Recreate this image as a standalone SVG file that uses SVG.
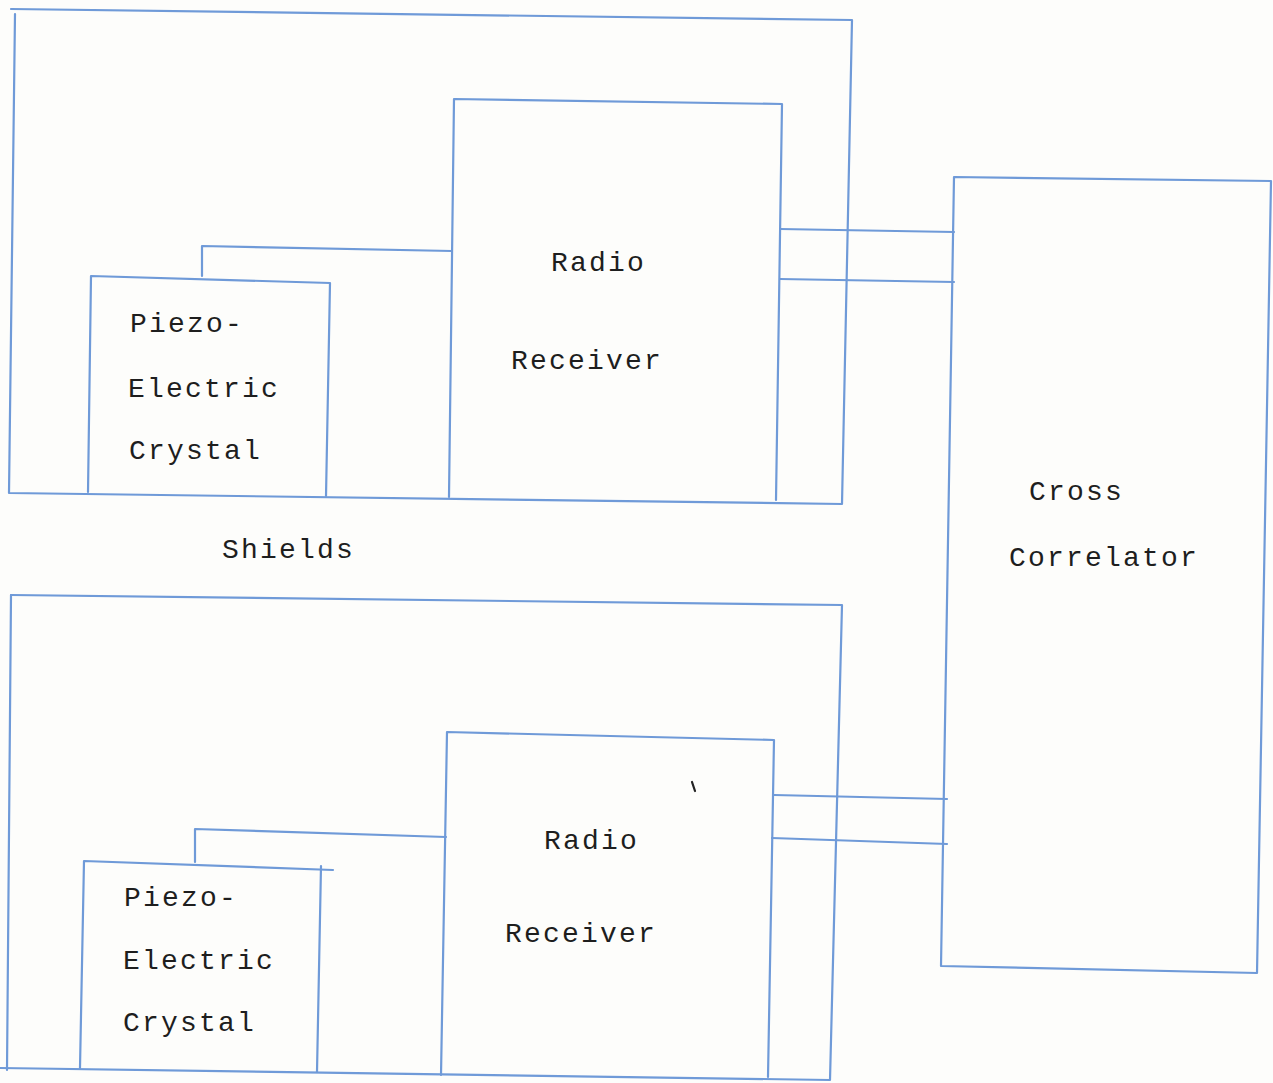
<svg xmlns="http://www.w3.org/2000/svg" width="1273" height="1083" viewBox="0 0 1273 1083">
<style>
.ln{fill:none;stroke:#6f9ad8;stroke-width:2.2;stroke-linecap:round;stroke-linejoin:round}
.tx{font-family:"Liberation Mono","DejaVu Sans Mono",monospace;font-size:28px;letter-spacing:2.2px;fill:#1e1e1e}
</style>
<rect width="1273" height="1083" fill="#fdfdfb"/>
<g id="shield-top">
<path class="ln" d="M11,9 L852,20 L842,504 L9,493 L15,14"/>
</g>
<g id="receiver-top">
<path class="ln" d="M449,497 L454,99 L782,104 L776,500"/>
<text class="tx" x="551" y="271">Radio</text>
<text class="tx" x="511" y="369">Receiver</text>
</g>
<g id="crystal-top">
<path class="ln" d="M88,492 L91,276 L330,283 L326,496"/>
<text class="tx" x="130" y="332">Piezo-</text>
<text class="tx" x="128" y="397">Electric</text>
<text class="tx" x="129" y="459">Crystal</text>
</g>
<g id="shield-bottom">
<path class="ln" d="M11,595 L842,605 L830,1080 L0,1068"/>
<path class="ln" d="M11,595 L7,1070"/>
</g>
<g id="receiver-bottom">
<path class="ln" d="M441,1075 L447,732 L774,740 L768,1077"/>
<text class="tx" x="544" y="849">Radio</text>
<text class="tx" x="505" y="942">Receiver</text>
</g>
<g id="crystal-bottom">
<path class="ln" d="M80,1068 L84,861 L333,870"/>
<path class="ln" d="M321,866 L317,1072"/>
<text class="tx" x="124" y="906">Piezo-</text>
<text class="tx" x="123" y="969">Electric</text>
<text class="tx" x="123" y="1031">Crystal</text>
</g>
<g id="cross-correlator">
<path class="ln" d="M954,177 L1271,181 L1257,973 L941,966 Z"/>
<text class="tx" x="1029" y="500">Cross</text>
<text class="tx" x="1009" y="566">Correlator</text>
</g>
<g id="label-shields">
<text class="tx" x="222" y="558">Shields</text>
</g>
<g id="connectors">
<path class="ln" d="M202,276 L202,246 L452,251"/>
<path class="ln" d="M780,229 L954,232"/>
<path class="ln" d="M780,279 L954,282"/>
<path class="ln" d="M195,862 L195,829 L446,837"/>
<path class="ln" d="M774,795 L947,799"/>
<path class="ln" d="M772,838 L947,844"/>
</g>
<path d="M692,782 L695,791" stroke="#222" stroke-width="2.2" stroke-linecap="round"/>
</svg>
